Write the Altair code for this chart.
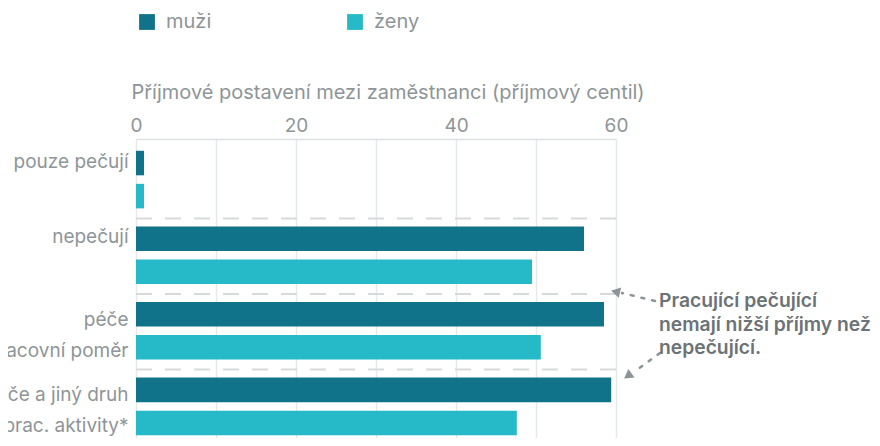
import altair as alt
import pandas as pd

# ---- data ----
categories = ["pouze pečují", "nepečují", "péče|pracovní poměr", "péče a jiný druh|prac. aktivity*"]
sexes = ["muži", "ženy"]
muzi = [1.0, 56.0, 58.5, 59.4]
zeny = [1.0, 49.5, 50.6, 47.6]
x_ticks = [0, 10, 20, 30, 40, 50, 60]
separators = categories[1:]
note_lines = ["Pracující pečující", "nemají nižší příjmy než", "nepečující."]
x_title = "Příjmové postavení mezi zaměstnanci (příjmový centil)"

rows = []
for c, m, z in zip(categories, muzi, zeny):
    rows.append({"cat": c, "sex": sexes[0], "value": m})
    rows.append({"cat": c, "sex": sexes[1], "value": z})
df = pd.DataFrame(rows)
sep_df = pd.DataFrame({"cat": separators})
one = pd.DataFrame({"a": [0]})

FONT = "Inter"
GRAY = "#8e9598"
ANN = "#8c9497"

y_scale = alt.Scale(domain=categories, paddingInner=0, paddingOuter=0.05)

bars = alt.Chart(df).mark_bar().encode(
    x=alt.X(
        "value:Q",
        scale=alt.Scale(domain=[0, 60], nice=False),
        axis=alt.Axis(
            orient="top", values=x_ticks,
            labelExpr="datum.value % 20 == 0 ? datum.label : ''",
            title=x_title, titleFontSize=20, titleColor=GRAY, titleFontWeight="normal",
            titleFont=FONT, titleAnchor="start", titleAlign="left", titleX=-5, titlePadding=14,
            labelFontSize=19, labelColor=GRAY, labelFont=FONT, labelPadding=4, labelFlush=False,
            ticks=False, domain=True, domainColor="#dde1e3", domainWidth=1.5,
            grid=True, gridColor="#e6e9ea", gridWidth=1.5,
        ),
    ),
    y=alt.Y(
        "cat:N", scale=y_scale, sort=categories,
        axis=alt.Axis(
            title=None, labelExpr="split(datum.label, '|')",
            labelFontSize=19, labelColor=GRAY, labelFont=FONT, labelPadding=8,
            labelLimit=0, labelAlign="right", labelBaseline="alphabetic",
            labelOffset={"condition": {"test": "indexof(datum.value, '|') >= 0", "value": -6}, "value": -13},
            labelLineHeight=31,
            ticks=False, domain=False, grid=False,
        ),
    ),
    yOffset=alt.YOffset(
        "sex:N", sort=sexes,
        scale=alt.Scale(domain=sexes, paddingInner=0.258, paddingOuter=0.273, align=0.444),
    ),
    color=alt.Color(
        "sex:N",
        scale=alt.Scale(domain=sexes, range=["#11738a", "#26b9c7"]),
        legend=alt.Legend(
            title=None, orient="none", legendX=1, legendY=-127, direction="horizontal",
            columns=2, columnPadding=133, symbolType="square", symbolSize=250,
            symbolStrokeWidth=0, labelFontSize=20, labelColor=GRAY, labelFont=FONT,
            labelOffset=9, padding=0,
        ),
    ),
)

seps = alt.Chart(sep_df).mark_rule(
    strokeDash=[16, 13], color="#d5dadc", strokeWidth=2
).encode(
    y=alt.Y("cat:N", bandPosition=0, scale=y_scale, sort=categories),
)

arrow1 = alt.Chart(one).mark_rule(
    strokeDash=[3, 8], strokeWidth=2.5, color=ANN, strokeCap="round"
).encode(x=alt.value(519), y=alt.value(162), x2=alt.value(486), y2=alt.value(154))
head1 = alt.Chart(one).mark_point(
    shape="triangle", filled=True, size=110, angle=283, color=ANN, opacity=1
).encode(x=alt.value(481), y=alt.value(153))

arrow2 = alt.Chart(one).mark_rule(
    strokeDash=[3, 8], strokeWidth=2.5, color=ANN, strokeCap="round"
).encode(x=alt.value(524), y=alt.value(214), x2=alt.value(498), y2=alt.value(233))
head2 = alt.Chart(one).mark_point(
    shape="triangle", filled=True, size=110, angle=234, color=ANN, opacity=1
).encode(x=alt.value(493), y=alt.value(236))

note = alt.Chart(one).mark_text(
    align="left", baseline="alphabetic", lineHeight=23.5, fontSize=19.3,
    fontWeight=600, color="#6c7376", font=FONT,
).encode(x=alt.value(523), y=alt.value(168), text=alt.value(note_lines))

chart = alt.layer(seps, bars, arrow1, head1, arrow2, head2, note).properties(
    width=480, height=310,
    autosize=alt.AutoSizeParams(type="none"),
    padding={"left": 128, "top": 131, "right": 256, "bottom": -11},
    background="white",
).configure_view(stroke=None)

chart.save("out.html", embed_options={"renderer": "svg", "actions": False})
